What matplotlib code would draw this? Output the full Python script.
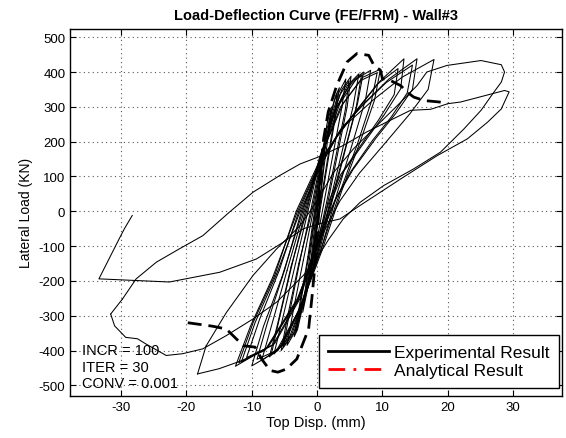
import matplotlib
matplotlib.use("Agg")
import matplotlib.pyplot as plt
from matplotlib.lines import Line2D

plt.rcParams['font.family'] = ['Liberation Sans', 'DejaVu Sans']
plt.rcParams['axes.unicode_minus'] = False

# experimental hysteresis, one list per cycle (disp mm, load kN)
cycles_x = [
    [0, 0.3, 0.6, 0.9, 0.6, 0.1, -0.3, -0.7, -0.9, -0.5],
    [0, 0.4, 0.9, 1.4, 1.1, 0.5, -0.2, -0.8, -1.4, -1.0, -0.4],
    [0.2, 0.8, 1.5, 2.2, 1.8, 1.0, 0.3, -0.5, -1.3, -2.2, -1.7, -0.9],
    [-0.1, 0.9, 1.8, 2.8, 3.4, 2.8, 1.8, 0.6, -0.6, -1.8, -3.0, -3.5, -2.6, -1.4],
    [-0.4, 0.5, 1.5, 2.5, 3.1, 2.6, 1.6, 0.4, -0.8, -2.0, -2.9, -3.2, -2.4, -1.2],
    [-0.2, 0.8, 2.0, 3.3, 4.4, 3.8, 2.6, 1.2, -0.2, -1.6, -3.2, -4.6, -3.6, -2.1],
    [-0.6, 0.6, 2.1, 3.8, 5.2, 4.6, 3.3, 1.8, 0.2, -1.6, -3.6, -5.5, -4.5, -2.8],
    [-0.8, 0.4, 1.9, 3.5, 4.9, 4.3, 3.0, 1.5, -0.1, -1.9, -3.8, -5.2, -4.2, -2.6],
    [-1.0, 0.6, 2.6, 4.6, 6.4, 5.5, 3.8, 2.0, 0.2, -2.0, -4.2, -6.6, -5.3, -3.3],
    [-1.4, 0.6, 3.0, 5.2, 7.1, 6.2, 4.5, 2.6, 0.4, -2.2, -5.0, -7.3, -6.0, -4.0],
    [-1.6, 0.3, 2.7, 4.9, 6.8, 6.0, 4.3, 2.3, 0.1, -2.5, -5.2, -7.0, -5.8, -3.8],
    [-1.8, 0.8, 3.5, 6.0, 8.2, 7.4, 5.5, 3.2, 0.6, -2.4, -5.6, -8.5, -7.0, -4.6],
    [-2.0, 0.8, 4.0, 7.0, 9.7, 8.8, 6.6, 3.8, 0.8, -2.6, -6.0, -10.0, -8.2, -5.4],
    [-2.2, 0.6, 3.6, 6.6, 9.2, 8.3, 6.2, 3.5, 0.5, -2.8, -6.2, -9.2, -7.6, -5.0],
    [-2.4, 0.5, 3.2, 6.1, 9.7, 13.3, 12.8, 10.2, 7.6, 4.0, 2.5, 0.6, -2.6, -6.5, -11.6, -9.5, -6.2],
    [-2.6, 0.4, 3.0, 5.8, 9.2, 12.4, 11.8, 9.4, 7.0, 3.6, 2.0, 0.3, -2.9, -6.8, -10.8, -8.8, -5.8],
    [-2.8, 0.5, 3.8, 7.2, 11.0, 15.3, 14.6, 12.0, 9.0, 5.5, 3.0, 0.8, -2.8, -7.5, -12.5, -10.2, -6.8],
    [-3.0, 0.3, 3.6, 7.0, 10.6, 14.6, 13.8, 11.4, 8.5, 5.2, 2.8, 0.6, -3.0, -7.8, -12.0, -9.8, -6.5],
    [-3.2, 0.5, 4.5, 8.6, 13.0, 17.9, 17.0, 14.2, 10.6, 6.5, 3.5, 1.0, -3.0, -8.0, -12.0, -15.0, -18.3],
    [-17.0, -13.9, -9.8, -6.2, -2.6, 0.0, 2.5, 5.6, 9.2, 12.3, 15.3, 16.8, 19.9, 25.1, 28.2, 28.7,
     28.2, 27.1, 25.1, 22.5, 18.9, 14.8, 10.2, 6.6, 4.0, 1.8, -0.2, -2.1, -6.2, -9.8, -13.9, -17.5,
     -20.6, -23.1, -26.2, -27.5, -29.3, -31.0, -31.6],
    [-29.8, -27.7, -24.6, -21.1, -17.5, -13.4, -9.8, -5.7, -2.6, 0.2, 4.0, 7.6, 11.7, 14.3, 17.4,
     20.0, 22.0, 28.7, 29.4, 28.2, 26.1, 23.0, 18.4, 12.8, 6.6, 3.5, 0.5, -2.1, -5.2, -9.3, -14.9,
     -22.6, -33.4, -30.3, -29.5, -28.3],
]
cycles_y = [
    [0, 60, 120, 160, 100, 0, -80, -140, -160, -90],
    [0, 80, 170, 230, 160, 40, -70, -160, -220, -150, -50],
    [60, 160, 250, 300, 230, 120, 10, -110, -210, -290, -210, -100],
    [20, 150, 250, 330, 355, 270, 160, 20, -120, -240, -340, -360, -260, -130],
    [0, 130, 235, 310, 340, 260, 150, 10, -130, -245, -320, -345, -250, -120],
    [10, 140, 260, 340, 380, 300, 180, 40, -100, -230, -340, -385, -280, -140],
    [0, 130, 260, 350, 388, 300, 180, 40, -100, -230, -350, -400, -300, -150],
    [0, 120, 245, 335, 375, 290, 170, 30, -110, -240, -350, -390, -290, -140],
    [0, 150, 280, 360, 395, 300, 170, 30, -110, -250, -360, -410, -310, -150],
    [0, 160, 300, 370, 400, 310, 190, 50, -110, -260, -380, -418, -320, -160],
    [0, 150, 285, 360, 392, 300, 180, 40, -120, -270, -380, -410, -310, -150],
    [0, 170, 310, 380, 405, 320, 200, 60, -110, -270, -390, -429, -330, -170],
    [0, 170, 310, 385, 408, 320, 200, 60, -110, -280, -400, -444, -330, -190],
    [0, 160, 300, 375, 398, 315, 195, 55, -115, -285, -400, -425, -320, -170],
    [0, 130, 220, 290, 375, 438, 352, 275, 208, 113, 45, -60, -250, -380, -433, -320, -180],
    [0, 125, 215, 285, 365, 410, 335, 262, 198, 105, 38, -65, -255, -385, -420, -310, -170],
    [0, 140, 240, 310, 380, 438, 350, 280, 210, 120, 40, -60, -250, -390, -445, -330, -190],
    [0, 135, 235, 305, 370, 420, 340, 272, 204, 115, 35, -62, -255, -395, -435, -320, -185],
    [0, 150, 250, 320, 385, 436, 350, 280, 200, 110, 30, -60, -250, -400, -432, -452, -467],
    [-387, -291, -184, -108, -41, 30, 111, 180, 247, 304, 361, 400, 419, 433, 421, 400,
     371, 343, 290, 237, 170, 122, 74, 26, -22, -80, -140, -184, -261, -309, -357, -395,
     -409, -414, -381, -366, -362, -329, -295],
    [-252, -194, -146, -108, -70, -2, 55, 103, 136, 156, 189, 228, 266, 290, 293,
     309, 314, 347, 343, 294, 256, 208, 160, 93, 17, -22, -35, -50, -89, -137, -175,
     -203, -194, -79, -50, -12],
]

# analytical (FE/FRM) envelope
fe_x = [-19.8, -16.0, -13.9, -12.6, -11.3, -9.5, -8.5, -7.2, -6.0, -4.7, -3.1, -2.1, -1.3, -0.8,
        -0.3, 0.1, 0.4, 0.7, 1.0, 1.7, 3.0, 4.6, 6.1, 7.9, 8.7, 9.7, 10.0, 11.2, 12.8, 13.8, 14.8,
        16.4, 18.7, 20.0]
fe_y = [-320, -330, -338, -362, -386, -390, -424, -457, -462, -453, -424, -376, -338, -250,
        -150, -50, 50, 150, 208, 285, 361, 429, 453, 448, 419, 405, 381, 376, 361, 342, 328,
        318, 314, 309]

fig, ax = plt.subplots(figsize=(5.66, 4.39), dpi=100)
fig.subplots_adjust(left=0.124, right=0.993, top=0.932, bottom=0.096)

for cx, cy in zip(cycles_x, cycles_y):
    ax.plot(cx, cy, color='black', lw=0.75)
# join consecutive cycles
for i in range(len(cycles_x) - 1):
    ax.plot([cycles_x[i][-1], cycles_x[i + 1][0]], [cycles_y[i][-1], cycles_y[i + 1][0]],
            color='black', lw=0.75)

ax.plot(fe_x, fe_y, color='black', lw=2.0, linestyle=(0, (5, 2.5)))

ax.set_xlim(-37.8, 37.5)
ax.set_ylim(-530, 524)
ax.set_xticks(range(-30, 31, 10))
ax.set_yticks(range(-500, 501, 100))
ax.tick_params(direction='in', top=True, right=True, labelsize=9.5, length=4)
ax.grid(True, color='#555555', linestyle=(0, (1, 3)), linewidth=0.8)
for s in ax.spines.values():
    s.set_linewidth(1.0)

ax.set_title('Load-Deflection Curve (FE/FRM) - Wall#3', fontsize=10.5, fontweight='bold', pad=7)
ax.set_xlabel('Top Disp. (mm)', fontsize=10.5, labelpad=2)
ax.set_ylabel('Lateral Load (KN)', fontsize=10)

ax.text(0.024, 0.125, 'INCR = 100', transform=ax.transAxes, fontsize=10.5, va='center')
ax.text(0.024, 0.079, 'ITER = 30', transform=ax.transAxes, fontsize=10.5, va='center')
ax.text(0.024, 0.035, 'CONV = 0.001', transform=ax.transAxes, fontsize=10.5, va='center')

handles = [Line2D([], [], color='black', lw=2),
           Line2D([], [], color='red', lw=2, linestyle=(0, (6, 3, 1, 3)))]
leg = ax.legend(handles, ['Experimental Result', 'Analytical Result'], loc='lower right',
                bbox_to_anchor=(0.994, 0.022), borderaxespad=0, fontsize=12.5,
                handlelength=3.5, handletextpad=0.3, labelspacing=0.2, borderpad=0.55,
                fancybox=False, framealpha=1, edgecolor='black')
leg.get_frame().set_linewidth(1.0)

fig.savefig('out.png', dpi=100)
